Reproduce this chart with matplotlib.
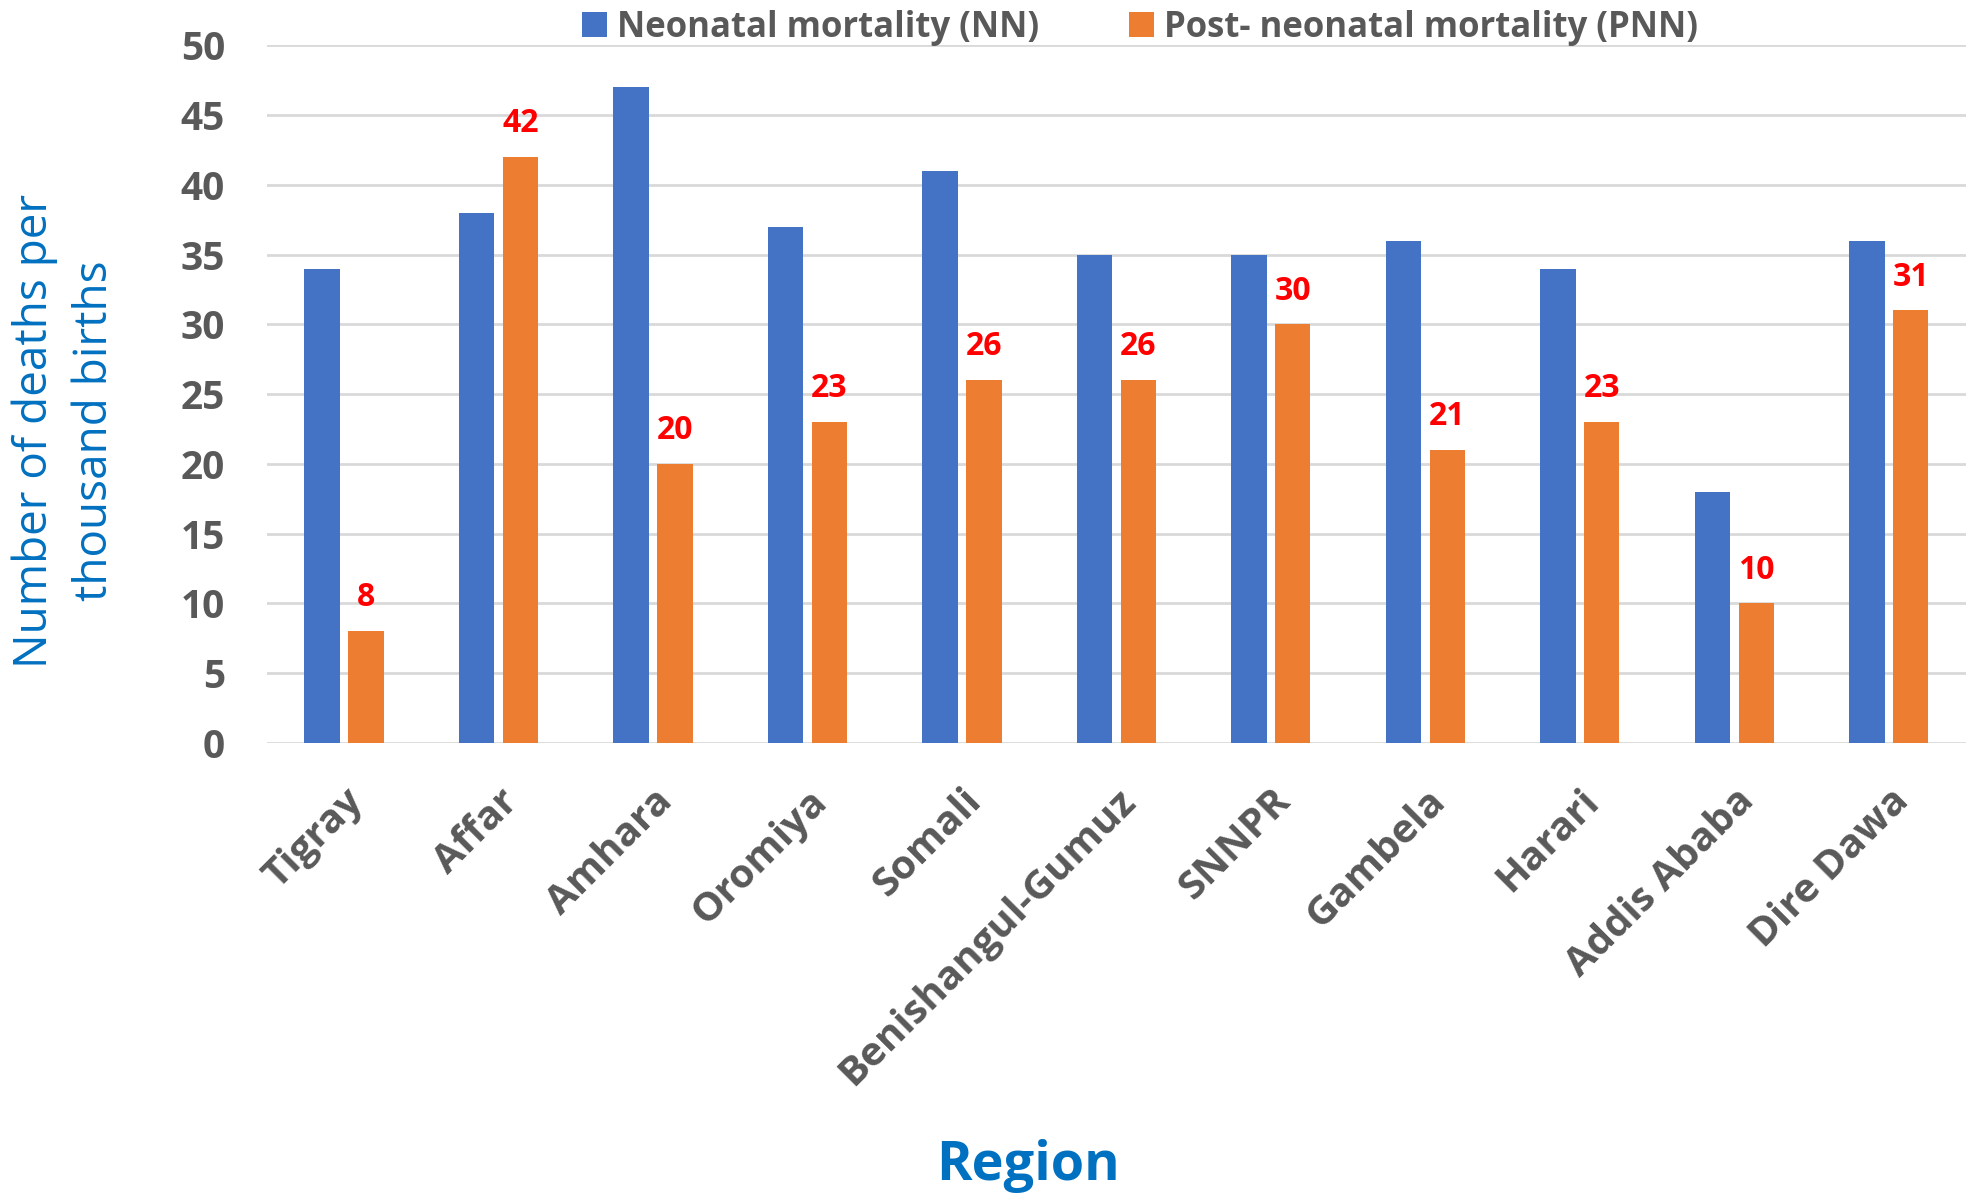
import numpy as np
import matplotlib
matplotlib.use("Agg")
import matplotlib.pyplot as plt

regions = ["Tigray", "Affar", "Amhara", "Oromiya", "Somali", "Benishangul-Gumuz",
           "SNNPR", "Gambela", "Harari", "Addis Ababa", "Dire Dawa"]
nn = [34, 38, 47, 37, 41, 35, 35, 36, 34, 18, 36]
pnn = [8, 42, 20, 23, 26, 26, 30, 21, 23, 10, 31]

blue = "#4472C4"
orange = "#ED7D31"
gray = "#595959"
title_blue = "#0070C0"

plt.rcParams['font.family'] = ['Open Sans', 'DejaVu Sans']

fig = plt.figure(figsize=(19.76, 11.96), dpi=100)
ax = fig.add_axes([0.135, 0.379, 0.86, 0.583])

x = np.arange(len(regions))
w = 0.228
ax.bar(x - 0.142, nn, w, color=blue, label="Neonatal mortality (NN)", zorder=3)
bars = ax.bar(x + 0.142, pnn, w, color=orange, label="Post- neonatal mortality (PNN)", zorder=3)

# red value labels on the PNN bars only
for b, v in zip(bars, pnn):
    ax.text(b.get_x() + b.get_width() / 2, v + 1.2, str(v), ha='center', va='bottom',
            color='red', fontsize=23, fontweight='bold')

ax.set_xlim(-0.5, len(regions) - 0.5)
ax.set_ylim(0, 50)
ax.set_yticks(range(0, 51, 5))
ax.yaxis.grid(True, color="#D9D9D9", linewidth=2, zorder=0)
for s in ax.spines.values():
    s.set_visible(False)
ax.tick_params(axis='both', length=0)
ax.tick_params(axis='y', pad=30, labelsize=28, labelcolor=gray)
for t in ax.get_yticklabels():
    t.set_fontweight('bold')

ax.set_xticks(x)
ax.set_xticklabels(regions, rotation=45, ha='right', rotation_mode='anchor',
                   fontsize=29, fontweight='bold', color=gray)
ax.tick_params(axis='x', pad=28)

fig.text(0.52, 0.025, "Region", ha='center', va='center', fontsize=39,
         fontweight='bold', color=title_blue)
fig.text(0.033, 0.64, "Number of deaths per\nthousand births", rotation=90,
         ha='center', va='center', multialignment='center', fontsize=33,
         color=title_blue, linespacing=1.4)

fig.legend(loc='center', bbox_to_anchor=(0.577, 0.977), ncol=2, frameon=False,
           handlelength=0.7, handleheight=0.7, columnspacing=2.6,
           handletextpad=0.3, prop={'weight': 'bold', 'size': 25},
           labelcolor=gray)

fig.savefig("out.png", dpi=100)
